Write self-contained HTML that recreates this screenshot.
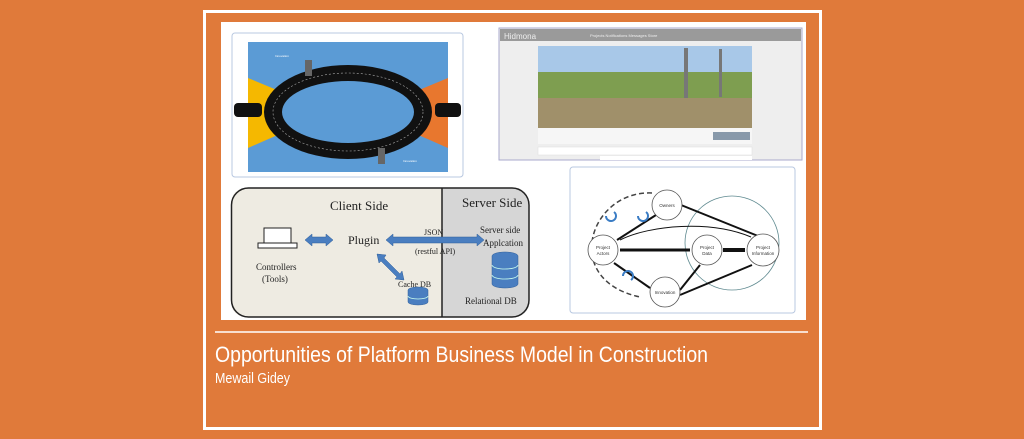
<!DOCTYPE html>
<html><head><style>
body{margin:0;width:1024px;height:439px;background:#E07A3A;overflow:hidden;font-family:"Liberation Sans",sans-serif}
</style></head><body>
<svg width="1024" height="439" xmlns="http://www.w3.org/2000/svg" style="position:absolute;left:0;top:0">
<rect x="0" y="0" width="1024" height="439" fill="#E07A3A"/>
<rect x="204.5" y="11.5" width="616" height="417" fill="none" stroke="#fff" stroke-width="3"/>
<rect x="221" y="22" width="585" height="298" fill="#fff"/>
<line x1="215" y1="332" x2="808" y2="332" stroke="#fff" stroke-width="1.5"/>
<text x="215" y="362" fill="#fff" font-size="22" textLength="493" lengthAdjust="spacingAndGlyphs">Opportunities of Platform Business Model in Construction</text>
<text x="215" y="383" fill="#fff" font-size="15" textLength="75" lengthAdjust="spacingAndGlyphs">Mewail Gidey</text>

<!-- top-left -->
<rect x="232" y="33" width="231" height="144" rx="3" fill="#fff" stroke="#b8c8e0"/>
<rect x="248" y="42" width="200" height="130" fill="#5B9BD5"/>
<polygon points="248,78 330,112 248,148" fill="#F5B800"/>
<polygon points="448,78 366,112 448,148" fill="#E8772E"/>
<ellipse cx="348" cy="112" rx="84" ry="47" fill="#111"/>
<ellipse cx="348" cy="112" rx="75" ry="39" fill="none" stroke="#aaa" stroke-width="0.6" stroke-dasharray="2 2"/>
<ellipse cx="348" cy="112" rx="66" ry="31" fill="#5B9BD5"/>
<rect x="234" y="103" width="28" height="14" rx="4" fill="#111"/>
<rect x="435" y="103" width="26" height="14" rx="4" fill="#111"/>
<rect x="305" y="60" width="7" height="16" fill="#666"/>
<rect x="378" y="148" width="7" height="16" fill="#666"/>
<text x="275" y="57" fill="#fff" font-size="3">Innovation</text>
<text x="403" y="162" fill="#fff" font-size="3">Innovation</text>

<!-- top-right screenshot -->
<rect x="499" y="28" width="303" height="132" fill="#eee" stroke="#aac"/>
<rect x="500" y="29" width="301" height="12" fill="#9a9a9a"/>
<text x="504" y="39" fill="#eee" font-size="8">Hidmona</text>
<text x="590" y="37" fill="#eee" font-size="4">Projects  Notifications  Messages  Store</text>
<rect x="538" y="46" width="214" height="82" fill="#7E9E50"/>
<rect x="538" y="46" width="214" height="26" fill="#A8C8E8"/>
<rect x="538" y="98" width="214" height="30" fill="#A0906A"/>
<rect x="684" y="48" width="4" height="50" fill="#777"/>
<rect x="719" y="49" width="3" height="48" fill="#777"/>
<rect x="538" y="128" width="214" height="16" fill="#f6f6f6"/>
<rect x="713" y="132" width="37" height="8" fill="#8899aa"/>
<rect x="538" y="147" width="214" height="8" fill="#fff" stroke="#ddd" stroke-width="0.5"/>
<rect x="600" y="156" width="152" height="4" fill="#fff"/>

<!-- bottom-left -->
<path d="M442,188 H248 Q231,188 231,205 V300 Q231,317 248,317 H442 Z" fill="#EEEBE2"/>
<path d="M442,188 H512 Q529,188 529,205 V300 Q529,317 512,317 H442 Z" fill="#D6D6D6"/>
<rect x="231.5" y="188" width="297.5" height="129" rx="17" fill="none" stroke="#222" stroke-width="1.5"/>
<line x1="442" y1="188" x2="442" y2="317" stroke="#222" stroke-width="1.5"/>
<g font-family="Liberation Serif,serif" fill="#222">
<text x="330" y="210" font-size="13">Client Side</text>
<text x="462" y="207" font-size="13">Server Side</text>
<text x="348" y="244" font-size="12">Plugin</text>
<text x="424" y="235" font-size="8">JSON</text>
<text x="415" y="254" font-size="8">(restful API)</text>
<text x="480" y="233" font-size="9">Server side</text>
<text x="483" y="246" font-size="9">Applcation</text>
<text x="256" y="270" font-size="9">Controllers</text>
<text x="262" y="282" font-size="9">(Tools)</text>
<text x="398" y="287" font-size="8">Cache DB</text>
<text x="465" y="304" font-size="9">Relational DB</text>
</g>
<rect x="264" y="228" width="27" height="15" fill="#fff" stroke="#222"/>
<rect x="258" y="243" width="39" height="5" fill="#fff" stroke="#222"/>
<g fill="#4A7EC0" stroke="#2F5F9A" stroke-width="0.5">
<polygon points="305,240 312,234 312,237 326,237 326,234 333,240 326,246 326,243 312,243 312,246"/>
<polygon points="386,240 393,234 393,237 477,237 477,234 484,240 477,246 477,243 393,243 393,246"/>
<polygon points="377,254 386,255 384,258 400,274 402,271 404,280 395,279 397,277 381,261 379,263"/>
<path d="M408,290 v12 a10,3 0 0 0 20,0 v-12 a10,3 0 0 0 -20,0z"/>
<path d="M492,256 v28 a13,4 0 0 0 26,0 v-28 a13,4 0 0 0 -26,0z"/>
</g>
<g fill="none" stroke="#cfe" stroke-width="0.8"><path d="M492,265 a13,4 0 0 0 26,0"/><path d="M492,275 a13,4 0 0 0 26,0"/><path d="M408,296 a10,3 0 0 0 20,0"/></g>

<!-- bottom-right -->
<rect x="570" y="167" width="225" height="146" rx="3" fill="#fff" stroke="#b8c8e0"/>
<circle cx="732" cy="243" r="47" fill="none" stroke="#5f8a90" stroke-width="0.8"/>
<path d="M652,193 C590,190 560,280 640,297" fill="none" stroke="#444" stroke-width="1.5" stroke-dasharray="5 3"/>
<g stroke="#111" stroke-width="2" fill="none">
<line x1="656" y1="215" x2="617" y2="240"/>
<line x1="681" y1="205" x2="758" y2="236"/>
<path d="M751,237 C710,220 650,225 620,240" stroke-width="1"/>
<line x1="620" y1="250" x2="690" y2="250" stroke-width="3"/>
<line x1="723" y1="250" x2="745" y2="250" stroke-width="4"/>
<line x1="614" y1="263" x2="650" y2="288"/>
<line x1="680" y1="290" x2="700" y2="265"/>
<line x1="680" y1="295" x2="752" y2="265"/>
</g>
<g fill="#fff" stroke="#555" stroke-width="0.8">
<circle cx="667" cy="205" r="15"/><circle cx="603" cy="250" r="15"/><circle cx="707" cy="250" r="15"/><circle cx="763" cy="250" r="16"/><circle cx="665" cy="292" r="15"/>
</g>
<g font-size="4.5" fill="#333" text-anchor="middle">
<text x="667" y="207">Owners</text><text x="603" y="249">Project</text><text x="603" y="255">Actors</text>
<text x="707" y="249">Project</text><text x="707" y="255">Data</text>
<text x="763" y="249">Project</text><text x="763" y="255">Information</text><text x="665" y="294">Innovation</text>
</g>
<g fill="none" stroke="#3A7CC4" stroke-width="2"><path d="M606,216 a5,5 0 1 0 8,-4"/><path d="M638,216 a5,5 0 1 0 8,-4"/><path d="M623,276 a5,5 0 1 1 8,4"/></g>
</svg>
</body></html>
